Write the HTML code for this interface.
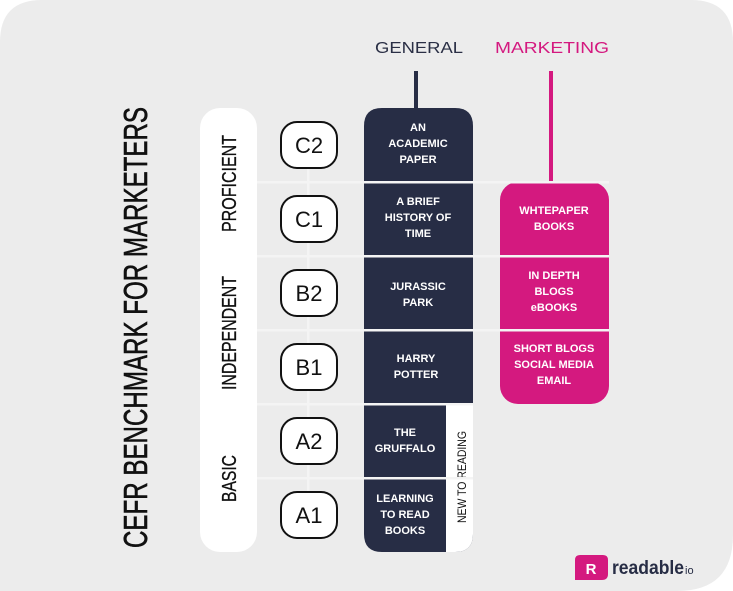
<!DOCTYPE html>
<html><head><meta charset="utf-8"><style>
html,body{margin:0;padding:0;background:#fff;width:733px;height:591px;overflow:hidden;}
svg{display:block;}
text{font-family:"Liberation Sans",sans-serif;}
</style></head><body>
<svg width="733" height="591" viewBox="0 0 733 591" xmlns="http://www.w3.org/2000/svg">
<rect x="0" y="0" width="733" height="591" fill="#fff"/>
<path d="M42 0 H691 Q733 0 733 42 V535 Q733 591 677 591 H0 V42 Q0 0 42 0 Z" fill="#ececec"/>

<!-- headings -->
<text x="419" y="53" font-size="16" fill="#2a2f45" text-anchor="middle" textLength="88" lengthAdjust="spacingAndGlyphs">GENERAL</text>
<text x="552" y="53" font-size="16" fill="#d4197f" text-anchor="middle" textLength="114" lengthAdjust="spacingAndGlyphs">MARKETING</text>
<rect x="414" y="71" width="4" height="40" fill="#272d45"/>
<rect x="549" y="71" width="4" height="115" fill="#d4197f"/>

<!-- title -->
<text transform="translate(147,548) rotate(-90)" font-size="33" fill="#111" stroke="#111" stroke-width="0.6" textLength="441" lengthAdjust="spacingAndGlyphs">CEFR  BENCHMARK FOR MARKETERS</text>

<!-- white pill -->
<rect x="200" y="108" width="57" height="444" rx="20" fill="#fff"/>
<text transform="translate(236,232) rotate(-90)" font-size="20" fill="#111" stroke="#111" stroke-width="0.3" textLength="97" lengthAdjust="spacingAndGlyphs">PROFICIENT</text>
<text transform="translate(236,390) rotate(-90)" font-size="20" fill="#111" stroke="#111" stroke-width="0.3" textLength="114" lengthAdjust="spacingAndGlyphs">INDEPENDENT</text>
<text transform="translate(236,502) rotate(-90)" font-size="20" fill="#111" stroke="#111" stroke-width="0.3" textLength="47" lengthAdjust="spacingAndGlyphs">BASIC</text>

<!-- dark column -->
<path d="M382 108 H455 Q473 108 473 126 V534 Q473 552 455 552 H382 Q364 552 364 534 V126 Q364 108 382 108 Z" fill="#272d45"/>
<path d="M446 405 H473 V534 Q473 552 455 552 H446 Z" fill="#fff"/>
<text transform="translate(466,523) rotate(-90)" font-size="12" fill="#111" textLength="92" lengthAdjust="spacingAndGlyphs">NEW TO READING</text>

<!-- pink box -->
<rect x="500" y="182" width="109" height="222" rx="18" fill="#d4197f"/>

<!-- grid lines -->
<g fill="#f4f4f4">
<rect x="257" y="181" width="352" height="2.5"/>
<rect x="257" y="255" width="352" height="2.5"/>
<rect x="257" y="329" width="352" height="2.5"/>
<rect x="257" y="403" width="216" height="2.5"/>
<rect x="257" y="477" width="216" height="2.5"/>
<rect x="307" y="150" width="2.5" height="365"/>
</g>

<!-- level boxes -->
<g fill="#fff" stroke="#111" stroke-width="2">
<rect x="281" y="122" width="56" height="46" rx="16"/>
<rect x="281" y="196" width="56" height="46" rx="16"/>
<rect x="281" y="270" width="56" height="46" rx="16"/>
<rect x="281" y="344" width="56" height="46" rx="16"/>
<rect x="281" y="418" width="56" height="46" rx="16"/>
<rect x="281" y="492" width="56" height="46" rx="16"/>
</g>
<g font-size="22" fill="#111" text-anchor="middle">
<text x="309" y="153">C2</text>
<text x="309" y="227">C1</text>
<text x="309" y="301">B2</text>
<text x="309" y="375">B1</text>
<text x="309" y="449">A2</text>
<text x="309" y="523">A1</text>
</g>

<!-- dark texts -->
<g font-size="11" font-weight="bold" fill="#fff" text-anchor="middle">
<text x="418" y="131">AN</text>
<text x="418" y="147">ACADEMIC</text>
<text x="418" y="163">PAPER</text>
<text x="418" y="205">A BRIEF</text>
<text x="418" y="221">HISTORY OF</text>
<text x="418" y="237">TIME</text>
<text x="418" y="290">JURASSIC</text>
<text x="418" y="306">PARK</text>
<text x="416" y="362">HARRY</text>
<text x="416" y="378">POTTER</text>
<text x="405" y="436">THE</text>
<text x="405" y="452">GRUFFALO</text>
<text x="405" y="502">LEARNING</text>
<text x="405" y="518">TO READ</text>
<text x="405" y="534">BOOKS</text>
<text x="554" y="214">WHTEPAPER</text>
<text x="554" y="230">BOOKS</text>
<text x="554" y="279">IN DEPTH</text>
<text x="554" y="295">BLOGS</text>
<text x="554" y="311">eBOOKS</text>
<text x="554" y="352">SHORT BLOGS</text>
<text x="554" y="368">SOCIAL MEDIA</text>
<text x="554" y="384">EMAIL</text>
</g>

<!-- logo -->
<path d="M575 560 Q575 555 580 555 H603 Q608 555 608 560 V574 Q608 580 602 580 H575 Z" fill="#d4197f"/>
<text x="591" y="574" font-size="15" font-weight="bold" fill="#fff" text-anchor="middle">R</text>
<text x="612" y="574" font-size="19" font-weight="bold" fill="#272d45" textLength="72" lengthAdjust="spacingAndGlyphs">readable</text>
<text x="685" y="574" font-size="11" fill="#272d45">io</text>
</svg>
</body></html>
